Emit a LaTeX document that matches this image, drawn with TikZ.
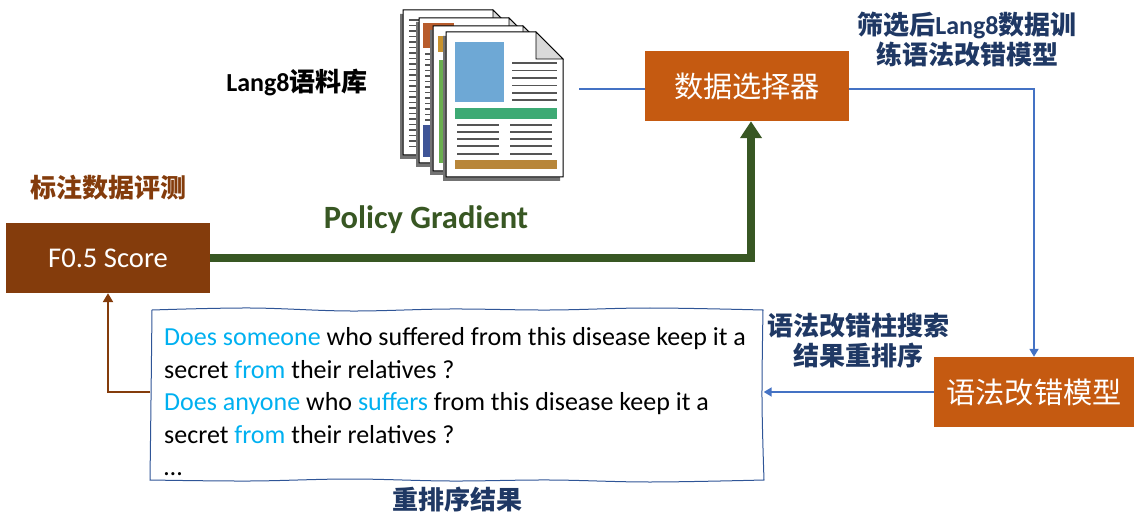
\documentclass[tikz,border=0pt]{standalone}
\usepackage{fontspec}
\setmainfont{Carlito}
\newfontfamily\cjk{Noto Sans CJK SC}
\usetikzlibrary{arrows.meta,calc}

\definecolor{selorange}{HTML}{C55A11}
\definecolor{scorebrown}{HTML}{843C0C}
\definecolor{pgreen}{HTML}{385723}
\definecolor{navy}{HTML}{1F3864}
\definecolor{linkblue}{HTML}{4472C4}
\definecolor{wordblue}{HTML}{00B0F0}
\definecolor{frameblue}{HTML}{2F5597}
\definecolor{pagegray}{HTML}{555555}
\definecolor{sheetred}{HTML}{B85C2C}
\definecolor{sheetnavy}{HTML}{3F5597}
\definecolor{sheetgold}{HTML}{C8922E}
\definecolor{sheetgreen}{HTML}{6AAE4F}
\definecolor{sheetsky}{HTML}{6EA8D5}
\definecolor{sheetteal}{HTML}{3DAA74}
\definecolor{sheetochre}{HTML}{B8863A}

% one sheet of the document stack, top-left corner at (#1,#2)
\newcommand\docsheet[2]{%
  \fill[black!55] ($(#1,#2)+(-3,4)$) -- ++(90,0) -- ++(27,27) -- ++(0,118) -- ++(-117,0) -- cycle;
  \filldraw[fill=white,draw=black,line width=1pt] (#1,#2) -- ++(90,0) -- ++(27,27) -- ++(0,118) -- ++(-117,0) -- cycle;
  \filldraw[fill=black!15,draw=black,line width=0.8pt] ($(#1,#2)+(90,0)$) -- ++(0,27) -- ++(27,0) -- cycle;
}

\begin{document}
\begin{tikzpicture}[x=1pt,y=-1pt,
  box/.style={inner sep=0pt, text=white, minimum width=204pt, minimum height=70pt},
  bigcjk/.style={font=\cjk\fontsize{29.2}{33}\selectfont},
  navylabel/.style={text=navy, align=center, font=\fontsize{26}{30}\selectfont\bfseries},
  blueline/.style={draw=linkblue, line width=1.8pt},
  bluearrow/.style={blueline, -{Triangle[width=9pt,length=8pt]}},
  pageline/.style={draw=pagegray, line width=1.2pt},
]
\useasboundingbox (0,0) rectangle (1134,518);

% ---- document stack ----
\docsheet{403}{10}
\foreach \yy in {20,25.5,...,150} \draw[pageline] (409,\yy) -- (424,\yy);
\docsheet{419}{18}
\fill[sheetred] (423,23) rectangle (454,48);
\foreach \yy in {54,59.5,...,122} \draw[pageline] (425,\yy) -- (440,\yy);
\fill[sheetnavy] (423,125) rectangle (440,157);
\docsheet{433}{26}
\fill[sheetgold] (438,36) rectangle (460,52);
\fill[sheetgreen] (439,60) rectangle (455,163);
\docsheet{446}{32}
\fill[sheetsky] (455,42) rectangle (504,102);
\foreach \yy in {63,70.5,78,85.5,93,100} \draw[pageline] (512,\yy) -- (557,\yy);
\fill[sheetteal] (455,108) rectangle (557,119);
\foreach \yy in {125,132,139,146,154} {
  \draw[pageline] (457,\yy) -- (499,\yy);
  \draw[pageline] (510,\yy) -- (552,\yy);
}
\fill[sheetochre] (455,160) rectangle (557,169);
\coordinate (docs) at (579,89);

% ---- boxes ----
\node[box, fill=selorange, bigcjk] (sel) at (747,86) {数据选择器};
\node[box, fill=selorange, bigcjk, minimum width=200pt] (gec) at (1034,392) {语法改错模型};
\node[box, fill=scorebrown, font=\fontsize{28.6}{32}\selectfont] (score) at (108,258) {F0.5 Score};

% ---- reranked beam results ----
\node[minimum width=613pt, minimum height=172pt, inner sep=0pt] (res) at (457,394) {};
\draw[frameblue, line width=1pt]
  plot[smooth, tension=0.6] coordinates {(152,310) (250,308) (350,311) (450,309) (550,310) (650,308) (763,310)}
  -- plot[smooth, tension=0.6] coordinates {(763,310) (762,400) (764,480)}
  -- plot[smooth, tension=0.6] coordinates {(764,480) (650,482) (550,480) (450,481) (350,479) (250,481) (150,480)}
  -- plot[smooth, tension=0.6] coordinates {(150,480) (151,400) (152,310)};
\node[anchor=west, align=left, inner sep=0pt, font=\fontsize{26}{32.5}\selectfont] (restext) at (164,402)
  {\textcolor{wordblue}{Does someone} who suffered from this disease keep it a\\
   secret \textcolor{wordblue}{from} their relatives ?\\
   \textcolor{wordblue}{Does anyone} who \textcolor{wordblue}{suffers} from this disease keep it a\\
   secret \textcolor{wordblue}{from} their relatives ?\\
   …};

% ---- labels ----
\node[font=\fontsize{26}{30}\selectfont\bfseries] (corpus) at (297,82) {Lang8{\cjk 语料库}};
\node[text=scorebrown, font=\cjk\fontsize{26}{30}\selectfont\bfseries] (evallbl) at (108,188) {标注数据评测};
\node[text=pgreen, font=\fontsize{32.5}{36}\selectfont\bfseries] (pglbl) at (426,220) {Policy Gradient};
\node[navylabel] (trainlbl) at (967,40) {{\cjk 筛选后}Lang8{\cjk 数据训}\\{\cjk 练语法改错模型}};
\node[navylabel, font=\cjk\fontsize{26}{30}\selectfont\bfseries] (beamlbl) at (858,341) {语法改错柱搜索\\结果重排序};
\node[text=navy, font=\cjk\fontsize{26}{30}\selectfont\bfseries] (reslbl) at (457,500) {重排序结果};

% ---- connectors ----
\coordinate (bend) at (751,0);
\draw[blueline] (docs) -- (docs -| sel.west);
\draw[bluearrow] ([yshift=-3pt]sel.east) -| (gec.north);
\draw[bluearrow] (gec.west) -- (gec.west -| res.east);
\draw[scorebrown, line width=2.2pt, -{Triangle[width=10pt,length=9pt]}]
  (res.west |- gec.west) -| (score.south);
\draw[pgreen, line width=8pt, -{Triangle[width=21pt,length=17pt]}]
  (score.east) -- (score.east -| bend) -- (bend |- sel.south);
\end{tikzpicture}
\end{document}
